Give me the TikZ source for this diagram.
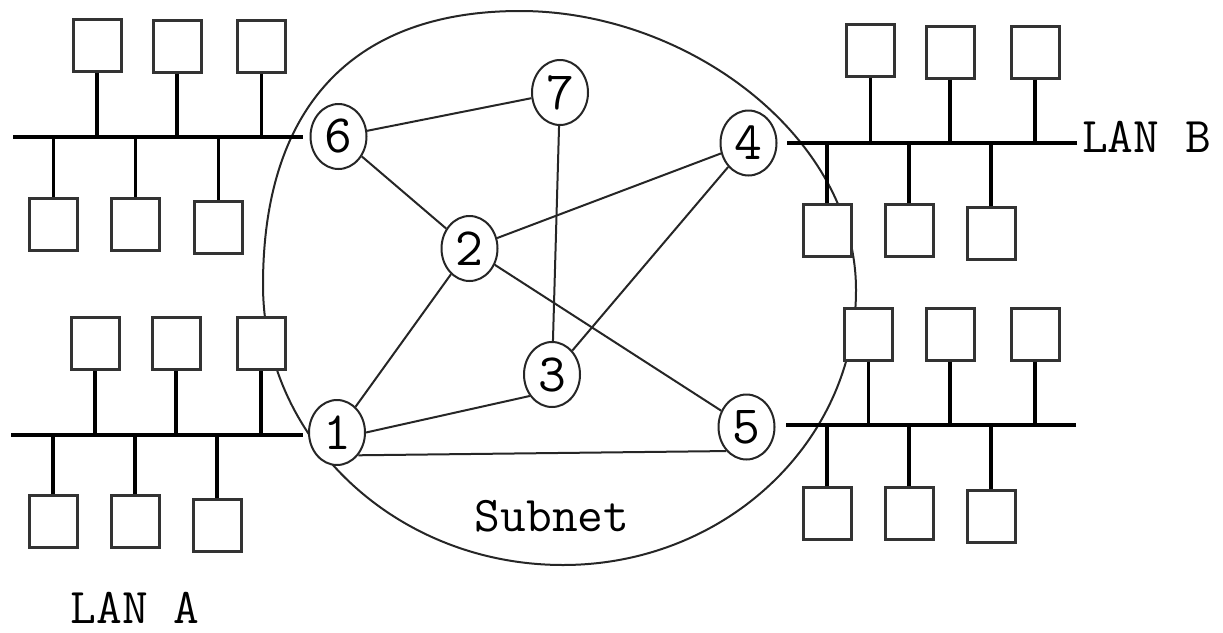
\documentclass[tikz,border=0pt]{standalone}
\usetikzlibrary{shapes.geometric}
\begin{document}
\begin{tikzpicture}[x=1pt,y=-1pt,
  hostbox/.style={rectangle, draw=black!80, line width=3pt, fill=white,
    minimum width=48pt, minimum height=52pt, inner sep=0pt},
  router/.style={ellipse, draw=black!85, line width=2pt, fill=white,
    minimum width=56pt, minimum height=65pt, inner sep=0pt,
    font=\ttfamily\fontsize{54}{54}\selectfont},
  link/.style={line width=2pt, draw=black!85},
  bus/.style={line width=4.5pt, draw=black},
  drop/.style={line width=3.5pt, draw=black},
  outline/.style={line width=2pt, draw=black!85},
  tag/.style={inner sep=0pt, font=\ttfamily\fontsize{50}{50}\selectfont}]
\useasboundingbox (0,0) rectangle (1223,632);

% subnet boundary
\draw[outline] (520,11)
  .. controls (688,11) and (856,137) .. (856,290)
  .. controls (856,442) and (725,565) .. (563,565)
  .. controls (397,565) and (263,440) .. (263,285)
  .. controls (263,107) and (353,11) .. cycle;

% hosts
\foreach \n/\x/\y in {
  tl1/97/45, tl2/177/46, tl3/261.5/46.5,
  tl4/53.5/224.5, tl5/135.5/224.5, tl6/218.5/227.5,
  bl1/95/343.5, bl2/176/343.5, bl3/261/343.5,
  bl4/53/521.5, bl5/135/521.5, bl6/217/525,
  tr1/870.5/50, tr2/950/52, tr3/1035/52,
  tr4/827/230, tr5/909/230, tr6/991/233,
  br1/868.5/334, br2/950/334, br3/1035/334,
  br4/827/513, br5/909/513, br6/991/516}
  \node[hostbox] (\n) at (\x,\y) {};

% routers
\node[router] (n1) at (337,432.5) {1};
\node[router] (n2) at (469.5,248.5) {2};
\node[router] (n3) at (552,374.5) {3};
\node[router] (n4) at (748.5,143) {4};
\node[router] (n5) at (746.5,427) {5};
\node[router] (n6) at (338.5,136.5) {6};
\node[router] (n7) at (560,92.5) {7};

% subnet links
\draw[link] (n6) -- (n7);
\draw[link] (n6) -- (n2);
\draw[link] (n7) -- (n3);
\draw[link] (n4) -- (n2);
\draw[link] (n4) -- (n3);
\draw[link] (n2) -- (n1);
\draw[link] (n2) -- (n5);
\draw[link] (n1.east) -- (n3.-136);
\draw[link] (n1.-47) -- (n5.-130);

% LAN buses
\coordinate (tlbus) at (13,137);
\coordinate (blbus) at (11,435);
\coordinate (trbus) at (1077,143);
\coordinate (brbus) at (1076,425);
\draw[bus, shorten >=7pt] (tlbus) -- (tlbus -| n6.west);
\draw[bus, shorten >=5pt] (blbus) -- (blbus -| n1.west);
\draw[bus, shorten >=9pt] (trbus) -- (trbus -| n4.east);
\draw[bus, shorten >=10pt] (brbus) -- (brbus -| n5.east);

% drops from hosts to buses
\foreach \n in {tl1,tl2,tl3} \draw[drop] (\n.south) -- (\n.south |- tlbus);
\foreach \n in {tl4,tl5,tl6} \draw[drop] (\n.north) -- (\n.north |- tlbus);
\foreach \n in {bl1,bl2,bl3} \draw[drop] (\n.south) -- (\n.south |- blbus);
\foreach \n in {bl4,bl5,bl6} \draw[drop] (\n.north) -- (\n.north |- blbus);
\foreach \n in {tr1,tr2,tr3} \draw[drop] (\n.south) -- (\n.south |- trbus);
\foreach \n in {tr4,tr5,tr6} \draw[drop] (\n.north) -- (\n.north |- trbus);
\foreach \n in {br1,br2,br3} \draw[drop] (\n.south) -- (\n.south |- brbus);
\foreach \n in {br4,br5,br6} \draw[drop] (\n.north) -- (\n.north |- brbus);

% labels
\node[tag, anchor=base] (subnet) at (552,531) {Subnet};
\node[tag, anchor=base] (lana) at (135,623) {LAN A};
\node[tag, anchor=base west] (lanb) at (1082,152) {LAN B};
\end{tikzpicture}
\end{document}
